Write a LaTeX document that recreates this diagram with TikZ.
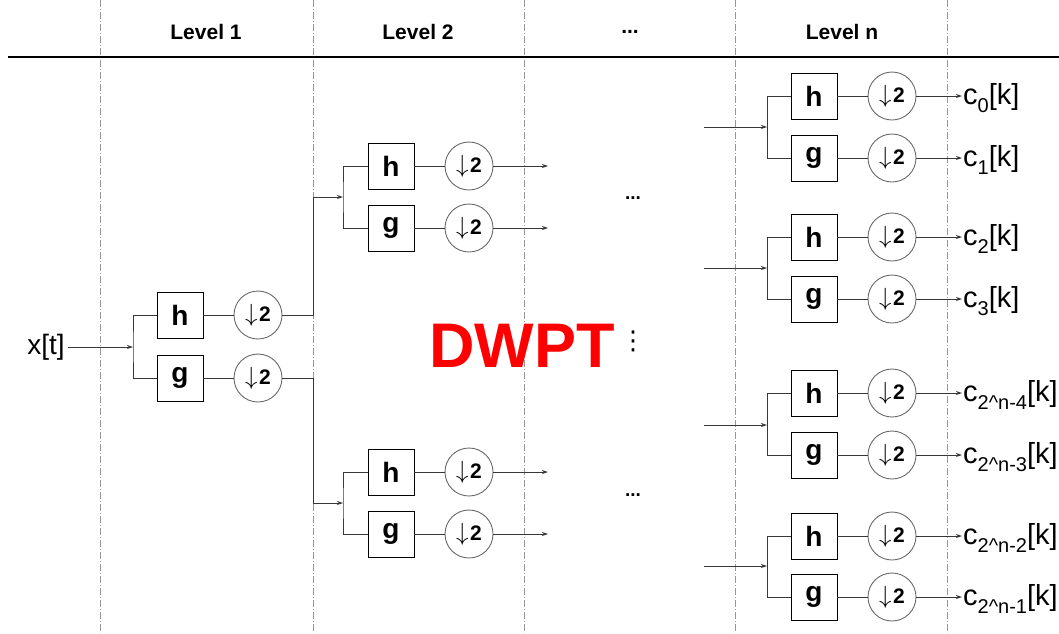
\documentclass[tikz,border=0pt]{standalone}
\usepackage{fontspec}
\setmainfont{Liberation Sans}
\newfontfamily\symfont{DejaVu Sans}
\usetikzlibrary{arrows.meta,positioning}
\definecolor{wiregray}{RGB}{55,55,55}
\definecolor{ringgray}{RGB}{105,105,105}
\definecolor{gridgray}{RGB}{150,150,150}
\definecolor{dwptred}{RGB}{255,0,0}

\tikzset{
  filt/.style={draw=black, line width=0.9pt, minimum size=46pt, inner sep=0pt,
    font=\fontsize{28}{28}\selectfont\bfseries},
  dsamp/.style={circle, draw=ringgray, line width=0.9pt, minimum size=48pt, inner sep=0pt},
  sig/.style={draw=wiregray, line width=0.9pt},
  sigarr/.style={sig, -{Stealth[length=6pt,width=4pt]}},
  lvl/.style={font=\fontsize{21}{21}\selectfont\bfseries},
  gridline/.style={draw=gridgray, line width=0.6pt, dash pattern=on 7pt off 2pt on 1pt off 2pt},
  outlbl/.style={anchor=base west, inner sep=1pt, font=\fontsize{29}{29}\selectfont},
  dots/.style={font=\fontsize{19}{19}\selectfont\bfseries},
}
\newcommand{\dsym}{{\fontsize{25}{25}\selectfont$\downarrow$}\kern1.5pt{\fontsize{21}{21}\selectfont\bfseries 2}}
\newcommand{\idx}[1]{\raisebox{-0.3em}{\fontsize{20}{20}\selectfont #1}}

\begin{document}
\begin{tikzpicture}[x=1pt, y=-1pt]
  \useasboundingbox (0,0) rectangle (1059,633);
  % level separators
  \draw[gridline] (100,0) -- (100,633);
  \draw[gridline] (313,0) -- (313,633);
  \draw[gridline] (524,0) -- (524,633);
  \draw[gridline] (735,0) -- (735,633);
  \draw[gridline] (947,0) -- (947,633);
  \draw[line width=1.2pt] (8,57) -- (1059,57);
  \node[lvl] (lvl1) at (206,32) {Level 1};
  \node[lvl] (lvl2) at (418,32) {Level 2};
  \node[lvl] (lvldots) at (630,32) {...};
  \node[lvl] (lvln) at (842,32) {Level n};

  % level 1
  \node[font=\fontsize{28}{28}\selectfont] (xt) at (46,347) {x[t]};
  \coordinate (b1) at (133,347);
  \node[filt] (h1) at (180,315) {h};
  \node[filt] (g1) at (180,378) {g};
  \node[dsamp] (dh1) at (258,315) {\dsym};
  \node[dsamp] (dg1) at (258,378) {\dsym};
  \draw[sigarr] (xt.east) -- (b1);
  \draw[sig] (h1.west) -| (b1) |- (g1.west);
  \draw[sig] (h1) -- (dh1);
  \draw[sig] (g1) -- (dg1);

  % level 2
  \coordinate (j1) at (313,197);
  \coordinate (j2) at (313,503);
  \coordinate (b2a) at (343,197);
  \coordinate (b2b) at (343,503);
  \node[filt] (h2a) at (391,166) {h};
  \node[filt] (g2a) at (391,228) {g};
  \node[dsamp] (dh2a) at (469,166) {\dsym};
  \node[dsamp] (dg2a) at (469,228) {\dsym};
  \node[filt] (h2b) at (391,472) {h};
  \node[filt] (g2b) at (391,534) {g};
  \node[dsamp] (dh2b) at (469,472) {\dsym};
  \node[dsamp] (dg2b) at (469,534) {\dsym};
  \draw[sigarr] (dh1.east) -| (j1) -- (b2a);
  \draw[sigarr] (dg1.east) -| (j2) -- (b2b);
  \draw[sig] (h2a.west) -| (b2a) |- (g2a.west);
  \draw[sig] (h2b.west) -| (b2b) |- (g2b.west);
  \draw[sig] (h2a) -- (dh2a);
  \draw[sig] (g2a) -- (dg2a);
  \draw[sig] (h2b) -- (dh2b);
  \draw[sig] (g2b) -- (dg2b);
  \coordinate (o2a) at (548,166);
  \coordinate (o2b) at (548,228);
  \coordinate (o2c) at (548,472);
  \coordinate (o2d) at (548,534);
  \draw[sigarr] (dh2a) -- (o2a);
  \draw[sigarr] (dg2a) -- (o2b);
  \draw[sigarr] (dh2b) -- (o2c);
  \draw[sigarr] (dg2b) -- (o2d);

  % middle
  \node[dots] (dotsa) at (633,198) {...};
  \node[dots] (dotsb) at (633,495) {...};
  \node[font=\symfont\fontsize{26}{26}\selectfont] (vdots) at (633,341) {⋮};
  \node[text=dwptred, font=\fontsize{63}{63}\selectfont\bfseries] (dwpt) at (522,346) {DWPT};

  % level n, group 1
  \coordinate (in1) at (704,127);
  \coordinate (bn1) at (767,127);
  \node[filt] (hn1) at (814,96) {h};
  \node[filt] (gn1) at (814,158) {g};
  \node[dsamp] (dhn1) at (892,96) {\dsym};
  \node[dsamp] (dgn1) at (892,158) {\dsym};
  \node[outlbl] (c0) at (962,104) {c\idx{0}[k]};
  \node[outlbl] (c1) at (962,166) {c\idx{1}[k]};
  \draw[sigarr] (in1) -- (bn1);
  \draw[sig] (hn1.west) -| (bn1) |- (gn1.west);
  \draw[sig] (hn1) -- (dhn1);
  \draw[sig] (gn1) -- (dgn1);
  \draw[sigarr] (dhn1.east) -- (dhn1.east -| c0.west);
  \draw[sigarr] (dgn1.east) -- (dgn1.east -| c1.west);

  % level n, group 2
  \coordinate (in2) at (704,268);
  \coordinate (bn2) at (767,268);
  \node[filt] (hn2) at (814,237) {h};
  \node[filt] (gn2) at (814,299) {g};
  \node[dsamp] (dhn2) at (892,237) {\dsym};
  \node[dsamp] (dgn2) at (892,299) {\dsym};
  \node[outlbl] (c2) at (962,245) {c\idx{2}[k]};
  \node[outlbl] (c3) at (962,307) {c\idx{3}[k]};
  \draw[sigarr] (in2) -- (bn2);
  \draw[sig] (hn2.west) -| (bn2) |- (gn2.west);
  \draw[sig] (hn2) -- (dhn2);
  \draw[sig] (gn2) -- (dgn2);
  \draw[sigarr] (dhn2.east) -- (dhn2.east -| c2.west);
  \draw[sigarr] (dgn2.east) -- (dgn2.east -| c3.west);

  % level n, group 3
  \coordinate (in3) at (704,425);
  \coordinate (bn3) at (767,425);
  \node[filt] (hn3) at (814,393) {h};
  \node[filt] (gn3) at (814,455) {g};
  \node[dsamp] (dhn3) at (892,393) {\dsym};
  \node[dsamp] (dgn3) at (892,455) {\dsym};
  \node[outlbl] (c4) at (962,401) {c\idx{2{\char94}n-4}[k]};
  \node[outlbl] (c5) at (962,463) {c\idx{2{\char94}n-3}[k]};
  \draw[sigarr] (in3) -- (bn3);
  \draw[sig] (hn3.west) -| (bn3) |- (gn3.west);
  \draw[sig] (hn3) -- (dhn3);
  \draw[sig] (gn3) -- (dgn3);
  \draw[sigarr] (dhn3.east) -- (dhn3.east -| c4.west);
  \draw[sigarr] (dgn3.east) -- (dgn3.east -| c5.west);

  % level n, group 4
  \coordinate (in4) at (704,566);
  \coordinate (bn4) at (767,566);
  \node[filt] (hn4) at (814,536) {h};
  \node[filt] (gn4) at (814,597) {g};
  \node[dsamp] (dhn4) at (892,536) {\dsym};
  \node[dsamp] (dgn4) at (892,597) {\dsym};
  \node[outlbl] (c6) at (962,544) {c\idx{2{\char94}n-2}[k]};
  \node[outlbl] (c7) at (962,605) {c\idx{2{\char94}n-1}[k]};
  \draw[sigarr] (in4) -- (bn4);
  \draw[sig] (hn4.west) -| (bn4) |- (gn4.west);
  \draw[sig] (hn4) -- (dhn4);
  \draw[sig] (gn4) -- (dgn4);
  \draw[sigarr] (dhn4.east) -- (dhn4.east -| c6.west);
  \draw[sigarr] (dgn4.east) -- (dgn4.east -| c7.west);
\end{tikzpicture}
\end{document}
